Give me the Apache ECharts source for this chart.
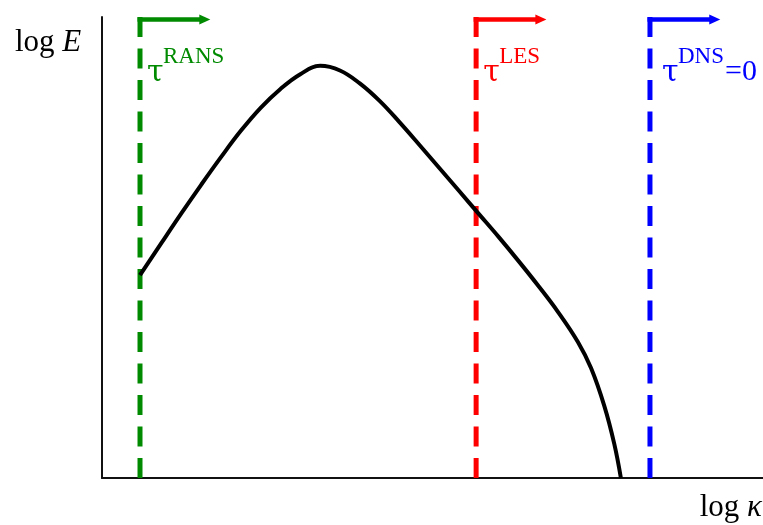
<!DOCTYPE html>
<html>
<head>
<meta charset="utf-8">
<title>Energy spectrum and turbulence model cut-offs</title>
<script src="https://cdn.jsdelivr.net/npm/echarts@6/dist/echarts.min.js"></script>
<style>
  html, body { margin: 0; padding: 0; background: #fff; }
  #chart { width: 763px; height: 525px; }
</style>
</head>
<body>
<div id="chart"></div>
<script>
// Schematic energy spectrum E(k) on log-log axes (arbitrary units 0..100)
const spectrumLogK = [5.75, 9, 12, 15, 18, 21, 24, 27, 30, 33, 36, 39, 42, 45, 48, 51,
  54, 57, 60, 63, 66, 69, 72, 74, 76, 77.5, 78.5];
const spectrumLogE = [44.0, 51.0, 57.4, 63.6, 69.6, 75.3, 80.3, 84.4, 87.6, 89.4, 88.4, 85.6,
  81.8, 77.2, 72.3, 67.3, 62.3, 57.3, 52.3, 47.1, 41.7, 36.0, 29.5, 23.8, 15.6, 7.4, 0];

// Cut-off wavenumbers of the three modelling approaches
const cutoffNames = ['RANS', 'LES', 'DNS'];
const cutoffLogK = [5.75, 56.6, 82.9];
const cutoffColors = ['#008a00', '#ff0000', '#0000ff'];
const cutoffSuffix = ['', '', '=0'];

const axisTop = 100;      // top of both axes
const arrowLevel = 99.45; // height of the arrow above each cut-off
const arrowLength = 9.8;  // arrow extent along log k
const labelGap = [0, 0, 5]; // extra spacing between a cut-off line and its label

const serif = '"Liberation Serif", "Times New Roman", "DejaVu Serif", serif';
const greekSerif = '"DejaVu Serif", "Liberation Serif", serif';

const chart = echarts.init(document.getElementById('chart'));

const series = [{
  type: 'line',
  data: spectrumLogK.map((k, i) => [k, spectrumLogE[i]]),
  smooth: 0.4,
  symbol: 'none',
  lineStyle: { color: '#000', width: 4 },
  z: 5
}];

cutoffLogK.forEach((k, i) => {
  series.push({
    type: 'line',
    data: [[k, axisTop], [k, 0]],
    symbol: 'none',
    lineStyle: { color: cutoffColors[i], width: 5, type: [20, 11.5], cap: 'butt' },
    z: 3,
    markLine: {
      silent: true,
      symbol: ['none', 'triangle'],
      symbolSize: [10, 11],
      label: { show: false },
      lineStyle: { color: cutoffColors[i], width: 4.5, type: 'solid' },
      data: [[
        { coord: [k - 0.38, arrowLevel] },
        { coord: [k + arrowLength, arrowLevel] }
      ]]
    }
  });
});

const hiddenAxis = {
  type: 'value',
  min: 0,
  max: 100,
  axisLine: { show: true, onZero: false, lineStyle: { color: '#111', width: 2 } },
  axisTick: { show: false },
  axisLabel: { show: false },
  splitLine: { show: false }
};

chart.setOption({
  animation: false,
  backgroundColor: '#fff',
  grid: { left: 102, right: 0, top: 17, bottom: 47 },
  xAxis: hiddenAxis,
  yAxis: hiddenAxis,
  series: series
});

function fontOf(size, family, italic) {
  return (italic ? 'italic ' : '') + size + 'px ' + family;
}

function richText(x, y, text, font, color) {
  return {
    type: 'text', x: x, y: y,
    style: {
      text: '{t|' + text + '}',
      rich: { t: { font: font, fill: color } }
    }
  };
}

// Text labels: axis names and the tau annotations next to each cut-off line
const graphics = [
  {
    type: 'text', left: 15, top: 27,
    style: {
      text: '{n|log }{i|E}',
      rich: {
        n: { font: fontOf(31, serif), fill: '#000' },
        i: { font: fontOf(31, serif, true), fill: '#000' }
      }
    }
  },
  {
    type: 'text', right: 1, top: 492,
    style: {
      text: '{n|log }{i|κ}',
      rich: {
        n: { font: fontOf(31, serif), fill: '#000' },
        i: { font: fontOf(31, serif, true), fill: '#000' }
      }
    }
  }
];

cutoffLogK.forEach((k, i) => {
  const px = chart.convertToPixel({ gridIndex: 0 }, [k, 0])[0] + labelGap[i];
  graphics.push(richText(px + 7, 58, 'τ', fontOf(30, greekSerif), cutoffColors[i]));
  graphics.push(richText(px + 23, 45, cutoffNames[i], fontOf(23, serif), cutoffColors[i]));
  if (cutoffSuffix[i]) {
    graphics.push(richText(px + 70, 57, cutoffSuffix[i], fontOf(30, serif), cutoffColors[i]));
  }
});

chart.setOption({ graphic: graphics });
</script>
</body>
</html>
